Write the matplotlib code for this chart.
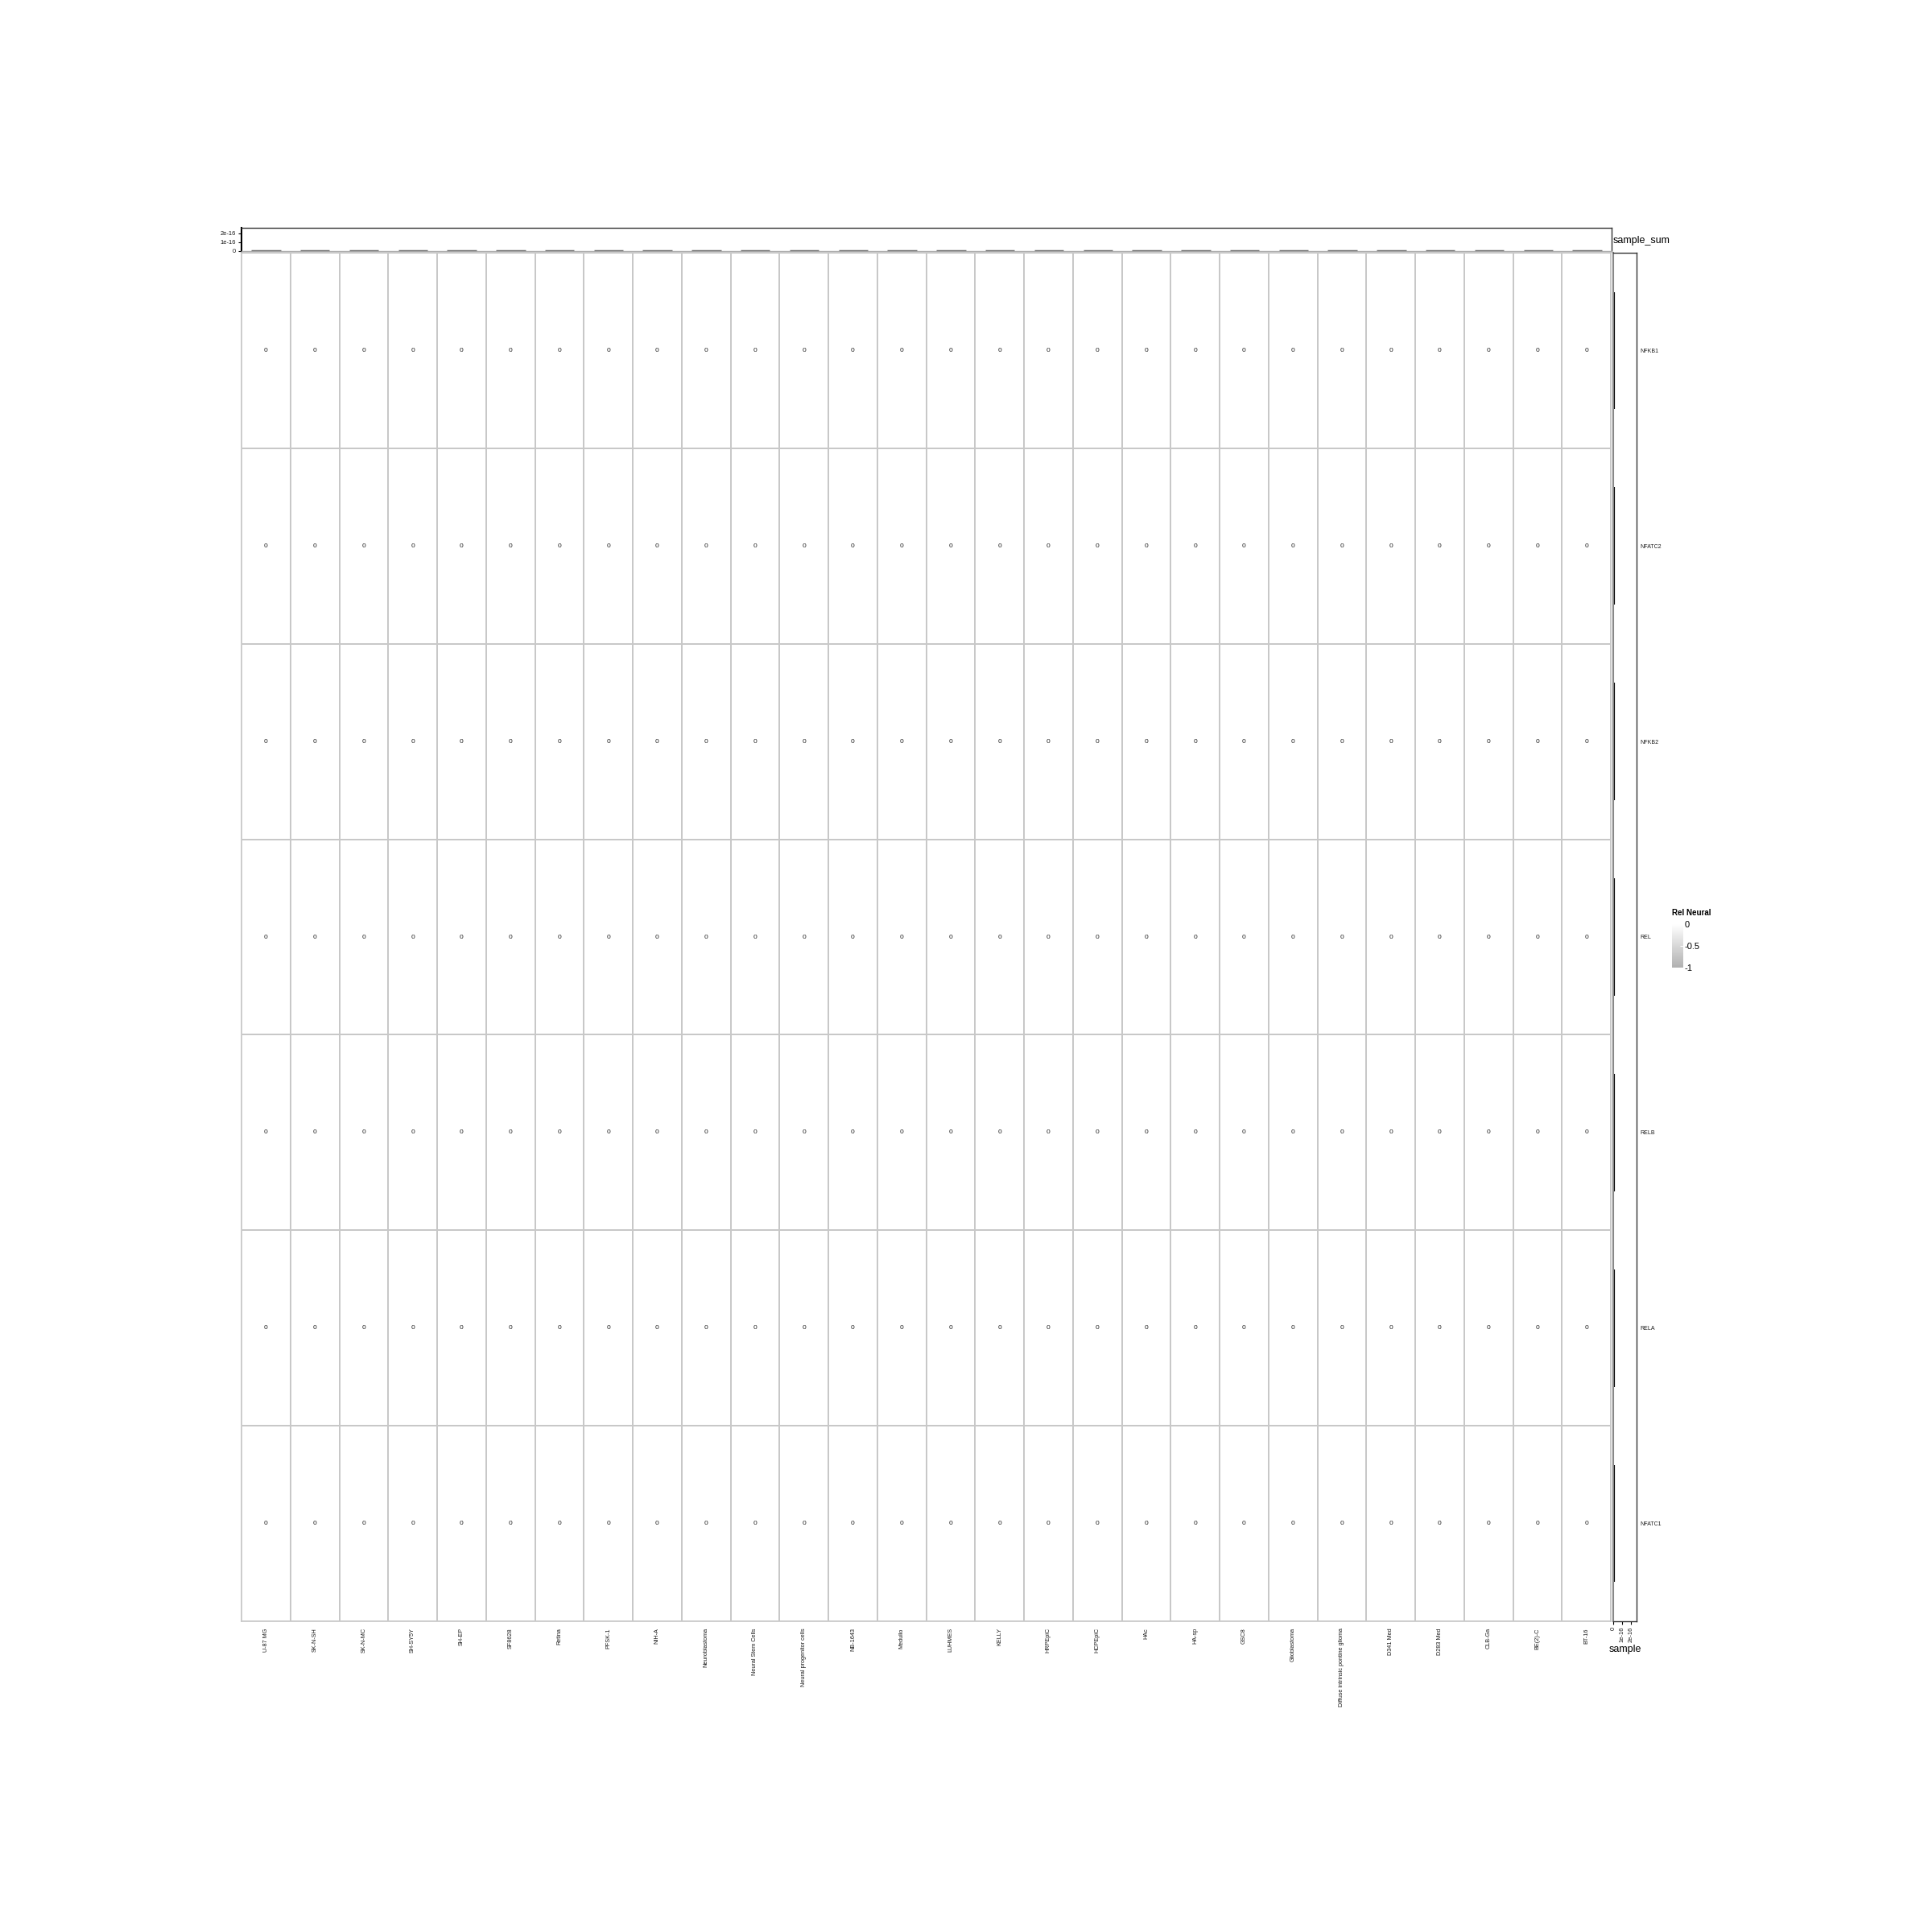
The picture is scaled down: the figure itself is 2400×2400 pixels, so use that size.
# Heatmap of Rel/NF-kB family expression across neural samples, with marginal sums.

import numpy as np
import matplotlib
matplotlib.use("Agg")
import matplotlib.pyplot as plt
from matplotlib.colors import LinearSegmentedColormap

plt.rcParams['font.family'] = ['Liberation Sans', 'DejaVu Sans']

samples = ["U-87 MG", "SK-N-SH", "SK-N-MC", "SH-SY5Y", "SH-EP", "SF8628", "Retina",
           "PFSK-1", "NIH-A", "Neuroblastoma", "Neural Stem Cells",
           "Neural progenitor cells", "NB-1643", "Medullo", "LUHMES", "KELLY",
           "HRPEpiC", "HCPEpiC", "HAc", "HA-sp", "GSC8", "Glioblastoma",
           "Diffuse intrinsic pontine glioma", "D341 Med", "D283 Med", "CLB-Ga",
           "BE(2)-C", "BT-16"]
genes = ["NFKB1", "NFATC2", "NFKB2", "REL", "RELB", "RELA", "NFATC1"]

# relative expression, every cell reads 0
rel_neural = np.zeros((len(genes), len(samples)))

sample_sum = rel_neural.sum(axis=0)
gene_sum = rel_neural.sum(axis=1)

W = H = 2400
fig = plt.figure(figsize=(24, 24), dpi=100)


def box(x0, y0, x1, y1):
    # pixel box (top-left origin) -> figure fraction
    return [x0 / W, 1 - y1 / H, (x1 - x0) / W, (y1 - y0) / H]


cmap = LinearSegmentedColormap.from_list("relgray", ["#b0b0b0", "#ffffff"])

# main heatmap
ax = fig.add_axes(box(300, 314, 2001, 2014))
mesh = ax.pcolormesh(np.arange(len(samples) + 1), np.arange(len(genes) + 1), rel_neural,
                     cmap=cmap, vmin=-1, vmax=0, edgecolors="#c8c8c8", linewidth=1.2)
ax.set_xlim(0, len(samples))
ax.set_ylim(len(genes), 0)
for i in range(len(genes)):
    for j in range(len(samples)):
        ax.text(j + 0.5, i + 0.5, f"{rel_neural[i, j]:g}", ha="center", va="center",
                fontsize=6, color="#222222")
ax.set_xticks(np.arange(len(samples)) + 0.5)
ax.set_xticklabels(samples, rotation=90, fontsize=5.2, color="#1a1a1a", va="top")
ax.tick_params(axis="x", length=0, pad=6)
ax.set_yticks([])
for s in ax.spines.values():
    s.set_color("#c8c8c8")
    s.set_linewidth(1.2)

# top marginal: per-sample sum
axt = fig.add_axes(box(300, 283, 2002, 312))
axt.bar(np.arange(len(samples)) + 0.5, sample_sum, width=0.6,
        color="#555555", edgecolor="#555555", linewidth=2.5)
axt.set_xlim(0, len(samples))
axt.set_ylim(0, 2.6e-16)
axt.set_yticks([0, 1e-16, 2e-16])
axt.set_yticklabels(["0", "1e-16", "2e-16"], fontsize=5.4, color="#1a1a1a")
axt.set_xticks([])
axt.tick_params(axis="y", length=3, width=0.8, pad=2)
for s in axt.spines.values():
    s.set_color("#333333")
    s.set_linewidth(1.0)
axt.spines["bottom"].set_color("#aaaaaa")
axt.spines["left"].set_color("black")
axt.spines["left"].set_linewidth(1.5)
fig.text(2004 / W, 1 - 299 / H, "sample_sum", fontsize=9, va="center", ha="left")

# right marginal: per-gene sum
axr = fig.add_axes(box(2004, 314, 2033, 2014))
axr.barh(np.arange(len(genes)) + 0.5, gene_sum, height=0.6,
         color="black", edgecolor="black", linewidth=3)
axr.set_ylim(len(genes), 0)
axr.set_xlim(0, 2.6e-16)
axr.set_xticks([0, 1e-16, 2e-16])
axr.set_xticklabels(["0", "1e-16", "2e-16"], rotation=90, fontsize=5.4, color="#1a1a1a")
axr.tick_params(axis="x", length=3, width=0.8, pad=2)
axr.set_yticks(np.arange(len(genes)) + 0.5)
axr.set_yticklabels(genes, fontsize=5, color="#1a1a1a")
axr.yaxis.tick_right()
axr.tick_params(axis="y", length=0, pad=3)
for s in axr.spines.values():
    s.set_color("#333333")
    s.set_linewidth(1.0)
axr.spines["left"].set_color("#888888")
axr.spines["left"].set_linewidth(1.5)
axr.set_xlabel("sample", fontsize=9, labelpad=2)

# legend colourbar
cax = fig.add_axes(box(2077, 1148, 2091, 1202))
cb = fig.colorbar(mesh, cax=cax, ticks=[0, -0.5, -1])
cb.ax.set_yticklabels(["0", "-0.5", "-1"], fontsize=8)
cb.outline.set_visible(False)
cb.ax.tick_params(length=3, color="white", width=0.8, direction="in", pad=1)
fig.text(2077 / W, 1 - 1134 / H, "Rel Neural", fontsize=7, fontweight="bold",
         ha="left", va="center")

fig.savefig("out.png", dpi=100, facecolor="white")
